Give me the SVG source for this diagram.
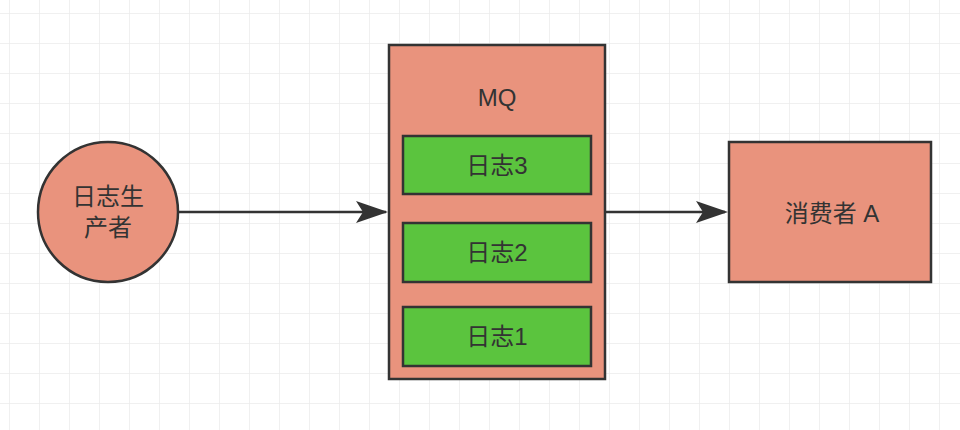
<svg xmlns="http://www.w3.org/2000/svg" width="960" height="430" viewBox="0 0 960 430">
<defs>
<pattern id="grid" x="9" y="13" width="30" height="30" patternUnits="userSpaceOnUse">
<path d="M0 0V30M0 0H30" fill="none" stroke="#ebebeb" stroke-width="1.5"/>
</pattern>
<style>
.salmon{fill:#E9937D;stroke:#333;stroke-width:2.5}
.green{fill:#5BC43E;stroke:#333;stroke-width:2.5}
.t{font-family:"Liberation Sans","Noto Sans CJK SC",sans-serif;font-size:24px;fill:#333;text-anchor:middle;dominant-baseline:central}
.edge{stroke:#333;stroke-width:2.5;fill:none}
</style>
</defs>
<rect width="960" height="430" fill="#fff"/>
<rect width="960" height="430" fill="url(#grid)"/>
<g id="connectors">
<line class="edge" x1="179" y1="212" x2="386" y2="212"/>
<path d="M356 201L388 212L356 223L363 212Z" fill="#333"/>
<line class="edge" x1="606" y1="212" x2="725" y2="212"/>
<path d="M696 201L728 212L696 223L703 212Z" fill="#333"/>
</g>
<g id="producer">
<circle class="salmon" cx="108" cy="212" r="70"/>
<text class="t" x="108" y="196">日志生</text>
<text class="t" x="108" y="227">产者</text>
</g>
<g id="mq">
<rect class="salmon" x="389" y="45" width="216" height="334"/>
<text class="t" x="497" y="97">MQ</text>
</g>
<g id="log3">
<rect class="green" x="403" y="136" width="188" height="58"/>
<text class="t" x="497" y="165">日志3</text>
</g>
<g id="log2">
<rect class="green" x="403" y="223" width="188" height="59"/>
<text class="t" x="497" y="252">日志2</text>
</g>
<g id="log1">
<rect class="green" x="403" y="307" width="188" height="59"/>
<text class="t" x="497" y="336">日志1</text>
</g>
<g id="consumer">
<rect class="salmon" x="729" y="142" width="202" height="140"/>
<text class="t" x="832" y="213">消费者 A</text>
</g>
</svg>
